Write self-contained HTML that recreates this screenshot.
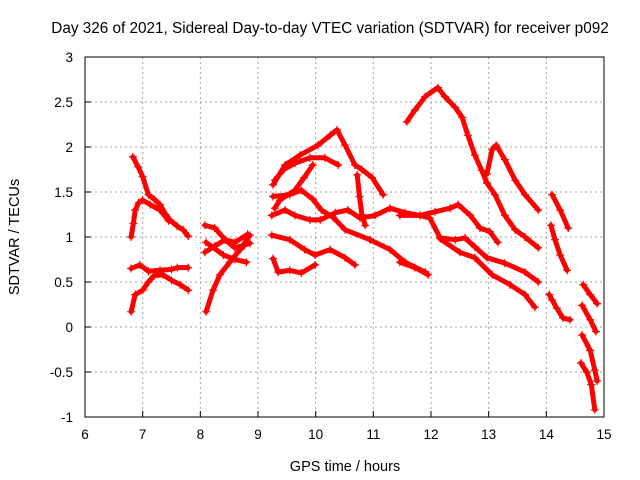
<!DOCTYPE html>
<html><head><meta charset="utf-8"><style>
body{margin:0;background:#fff}
svg{display:block;font-family:"Liberation Sans",sans-serif}
</style></head><body>
<svg id="chart" width="640" height="480" viewBox="0 0 640 480">
<rect width="640" height="480" fill="#fff"/>
<text x="330" y="33" text-anchor="middle" font-size="15.3">Day 326 of 2021, Sidereal Day-to-day VTEC variation (SDTVAR) for receiver p092</text>
<text transform="translate(19,237) rotate(-90)" text-anchor="middle" font-size="14.5">SDTVAR / TECUs</text>
<text x="345" y="471" text-anchor="middle" font-size="14.5">GPS time / hours</text>
<g id="grid"></g><g id="ticks"></g><g id="marks"></g>
<rect x="85" y="57" width="519" height="360" fill="none" stroke="#000" stroke-width="1"/>
</svg>
<script>
const xTicks=[6,7,8,9,10,11,12,13,14,15];
const yTicks=[-1,-0.5,0,0.5,1,1.5,2,2.5,3];
const yTickLabels=["-1","-0.5","0","0.5","1","1.5","2","2.5","3"];
const trackA=[[6.83,1.89],[6.92,1.78],[7.0,1.67],[7.1,1.47],[7.2,1.42],[7.3,1.36],[7.4,1.25],[7.47,1.19],[7.6,1.12],[7.7,1.08],[7.79,1.01]];
const trackB=[[6.8,1.0],[6.84,1.15],[6.87,1.3],[6.93,1.38],[7.0,1.41],[7.13,1.36],[7.3,1.3],[7.45,1.18]];
const trackC=[[6.8,0.65],[6.95,0.69],[7.1,0.62],[7.3,0.63],[7.5,0.64],[7.6,0.66],[7.79,0.66]];
const trackD=[[6.8,0.17],[6.87,0.36],[7.0,0.41],[7.1,0.5],[7.2,0.57],[7.35,0.58],[7.5,0.52],[7.65,0.47],[7.79,0.41]];
const trackE=[[8.1,0.17],[8.22,0.41],[8.34,0.58],[8.51,0.72],[8.69,0.86],[8.86,1.02]];
const trackF=[[8.08,1.13],[8.25,1.1],[8.43,0.97],[8.6,0.88],[8.77,0.91],[8.86,0.93]];
const trackG=[[8.08,0.83],[8.25,0.9],[8.43,0.97],[8.6,0.94],[8.82,1.03]];
const trackH=[[8.1,0.94],[8.4,0.8],[8.6,0.75],[8.8,0.72]];
const trackI=[[9.26,1.58],[9.47,1.8],[9.73,1.91],[10.04,2.02],[10.25,2.13],[10.37,2.19],[10.51,2.02],[10.68,1.8],[10.8,1.75],[10.98,1.66],[11.17,1.47]];
const trackJ=[[9.29,1.63],[9.45,1.75],[9.64,1.82],[9.9,1.88],[10.16,1.88],[10.39,1.8]];
const trackK=[[9.29,1.32],[9.38,1.41],[9.64,1.52],[9.8,1.66],[9.95,1.8]];
const trackL=[[9.26,1.45],[9.55,1.47],[9.75,1.52],[9.95,1.42],[10.1,1.3],[10.3,1.22]];
const trackM=[[9.24,1.24],[9.47,1.3],[9.64,1.24],[9.9,1.19],[10.08,1.19],[10.34,1.27],[10.56,1.3],[10.77,1.21],[11.03,1.24],[11.29,1.32],[11.55,1.27],[11.81,1.24],[12.07,1.28],[12.33,1.32],[12.47,1.36],[12.68,1.24],[12.85,1.1],[13.02,1.06],[13.16,0.94]];
const trackN=[[9.24,1.02],[9.55,0.97],[9.81,0.86],[9.99,0.8],[10.25,0.86],[10.51,0.77],[10.68,0.69]];
const trackO=[[10.3,1.22],[10.51,1.08],[10.94,0.97],[11.29,0.86],[11.55,0.72],[11.9,0.61]];
const trackP=[[9.26,0.76],[9.35,0.61],[9.55,0.63],[9.75,0.6],[9.99,0.69]];
const trackQ=[[10.72,1.69],[10.76,1.45],[10.8,1.25],[10.86,1.13]];
const trackR=[[11.58,2.28],[11.72,2.41],[11.9,2.56],[12.12,2.66],[12.24,2.56],[12.42,2.44],[12.54,2.33],[12.64,2.13],[12.76,1.91],[12.88,1.74],[12.97,1.6]];
const trackS=[[12.97,1.7],[13.06,1.97],[13.13,2.02],[13.28,1.86],[13.46,1.63],[13.63,1.47],[13.86,1.3]];
const trackT=[[12.97,1.6],[13.11,1.47],[13.28,1.24],[13.46,1.08],[13.63,1.0],[13.86,0.88]];
const trackU=[[11.46,1.24],[11.81,1.24],[11.98,1.21],[12.16,0.99],[12.42,0.97],[12.59,0.99],[12.76,0.89],[12.97,0.77],[13.28,0.71],[13.63,0.61],[13.86,0.5]];
const trackV=[[12.16,0.98],[12.5,0.83],[12.76,0.77],[13.06,0.58],[13.37,0.47],[13.63,0.36],[13.8,0.22]];
const trackW=[[11.46,0.72],[11.72,0.66],[11.95,0.58]];
const trackX=[[14.1,1.47],[14.24,1.3],[14.38,1.1]];
const trackY=[[14.08,1.13],[14.15,0.97],[14.24,0.8],[14.36,0.63]];
const trackZ=[[14.05,0.36],[14.1,0.3],[14.18,0.21],[14.29,0.1],[14.41,0.08]];
const trackAA=[[14.64,0.47],[14.76,0.36],[14.88,0.26]];
const trackAB=[[14.62,0.24],[14.76,0.08],[14.86,-0.05]];
const trackAC=[[14.62,-0.09],[14.76,-0.26],[14.84,-0.48],[14.88,-0.6]];
const trackAD=[[14.6,-0.4],[14.7,-0.5],[14.78,-0.64],[14.84,-0.92]];
const tracks=[trackA,trackB,trackC,trackD,trackE,trackF,trackG,trackH,trackI,trackJ,trackK,trackL,trackM,trackN,trackO,trackP,trackQ,trackR,trackS,trackT,trackU,trackV,trackW,trackX,trackY,trackZ,trackAA,trackAB,trackAC,trackAD];

const NS="http://www.w3.org/2000/svg";
const X0=85,X1=604,Y0=417,Y1=57;
const xs=h=>X0+(h-6)/(15-6)*(X1-X0);
const ys=v=>Y0-(v+1)/(3+1)*(Y0-Y1);
const grid=document.getElementById('grid'),ticks=document.getElementById('ticks'),marks=document.getElementById('marks');
function mk(tag,attrs,parent){const e=document.createElementNS(NS,tag);for(const k in attrs)e.setAttribute(k,attrs[k]);parent.appendChild(e);return e;}
xTicks.forEach(t=>{
  const x=xs(t);
  if(t>6&&t<15){const g=mk('line',{x1:x,x2:x,y1:Y1,y2:Y0,stroke:'#a0a0a0','stroke-dasharray':'2,3'},grid);
  
  }
  const tl=mk('line',{x1:x,x2:x,y1:Y0,y2:Y0-6,stroke:'#000'},ticks);
  
  
  const tx=mk('text',{x:x,y:Y0+22,'text-anchor':'middle','font-size':13.5},ticks);tx.textContent=String(t);
  
  
});
yTicks.forEach((t,i)=>{
  const y=ys(t);
  if(t>-1&&t<3){const g=mk('line',{x1:X0,x2:X1,y1:y,y2:y,stroke:'#a0a0a0','stroke-dasharray':'2,3'},grid);
  
  }
  const tl=mk('line',{x1:X0,x2:X0+6,y1:y,y2:y,stroke:'#000'},ticks);
  
  
  const tx=mk('text',{x:X0-12,y:y+5,'text-anchor':'end','font-size':13.5},ticks);tx.textContent=yTickLabels[i];
  
  
});
tracks.forEach((tr)=>{
  const pts=tr.map(p=>xs(p[0]).toFixed(1)+','+ys(p[1]).toFixed(1)).join(' ');
  const pl=mk('polyline',{points:pts,fill:'none',stroke:'#ff0000','stroke-width':5,'stroke-linejoin':'round','stroke-linecap':'round'},marks);
  
  
  tr.forEach(p=>{
    const x=xs(p[0]),y=ys(p[1]);
    const m=mk('path',{d:`M${x-4},${y}h8M${x},${y-4}v8`,stroke:'#ff0000','stroke-width':1.2},marks);
    
    
  });
});
</script>
</body></html>
